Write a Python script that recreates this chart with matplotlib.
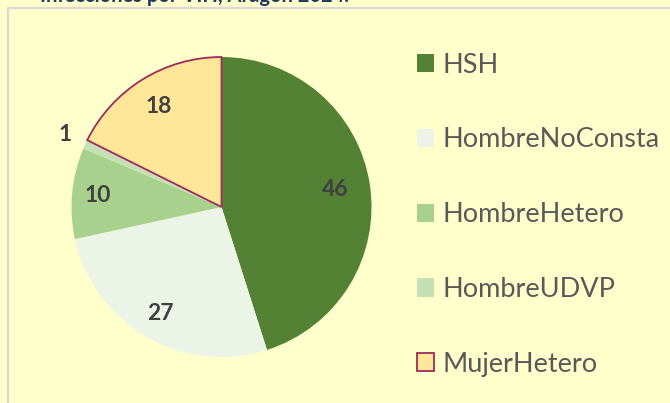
import matplotlib.pyplot as plt
import matplotlib.patches as mpatches
import numpy as np

# datos
categorias = ["HSH", "HombreNoConsta", "HombreHetero", "HombreUDVP", "MujerHetero"]
valores = [46, 27, 10, 1, 18]
colores = ["#548235", "#EBF4E6", "#A9D18E", "#C5E0B4", "#FFE699"]
titulo = "Infecciones por VIH, Aragón 2024."

W, H = 670, 403
fondo = "#FFFFCC"

plt.rcParams['font.family'] = ['Lato', 'DejaVu Sans']

fig = plt.figure(figsize=(W / 100, H / 100), dpi=100)
fig.patch.set_facecolor(fondo)

# marco del area del grafico (se sale por abajo y por la derecha)
fig.patches.append(mpatches.Rectangle((7.5 / W, -0.1), 1.2, (H - 7.5) / H + 0.1,
                                      transform=fig.transFigure, fill=False,
                                      edgecolor="#D9D9D9", lw=1.6))

# titulo cortado por arriba (como en la imagen original)
fig.text(40 / W, (H - 2.5) / H, titulo, fontsize=14.5, fontweight="bold",
         color="#1F3864", va="baseline", ha="left")

cx, cy, r = 221.5, H - 207, 150
ax = fig.add_axes([(cx - r) / W, (cy - r) / H, 2 * r / W, 2 * r / H])
ax.set_facecolor(fondo)

wedges, _ = ax.pie(valores, colors=colores, startangle=90, counterclock=False,
                   wedgeprops=dict(linewidth=0))
# borde de MujerHetero
wedges[4].set_edgecolor("#9E2A5E")
wedges[4].set_linewidth(1.3)

ax.set_xlim(-1, 1)
ax.set_ylim(-1, 1)
ax.set_aspect("equal")
ax.axis("off")

dist = [0.77, 0.82, 0.83, 1.15, 0.79]
for w, v, d in zip(wedges, valores, dist):
    ang = np.deg2rad((w.theta1 + w.theta2) / 2)
    ax.text(d * np.cos(ang), d * np.sin(ang), str(v), ha="center", va="center",
            fontsize=16.5, fontweight="bold", color="#404040", clip_on=False)

leg = fig.legend(wedges, categorias, loc="upper left",
                 bbox_to_anchor=(403 / W, (H - 39) / H),
                 frameon=False, fontsize=19.5, labelcolor="#595959",
                 handlelength=0.66, handleheight=0.66, handletextpad=0.3,
                 labelspacing=1.84, borderpad=0)

fig.savefig("out.png", dpi=100, facecolor=fondo)
